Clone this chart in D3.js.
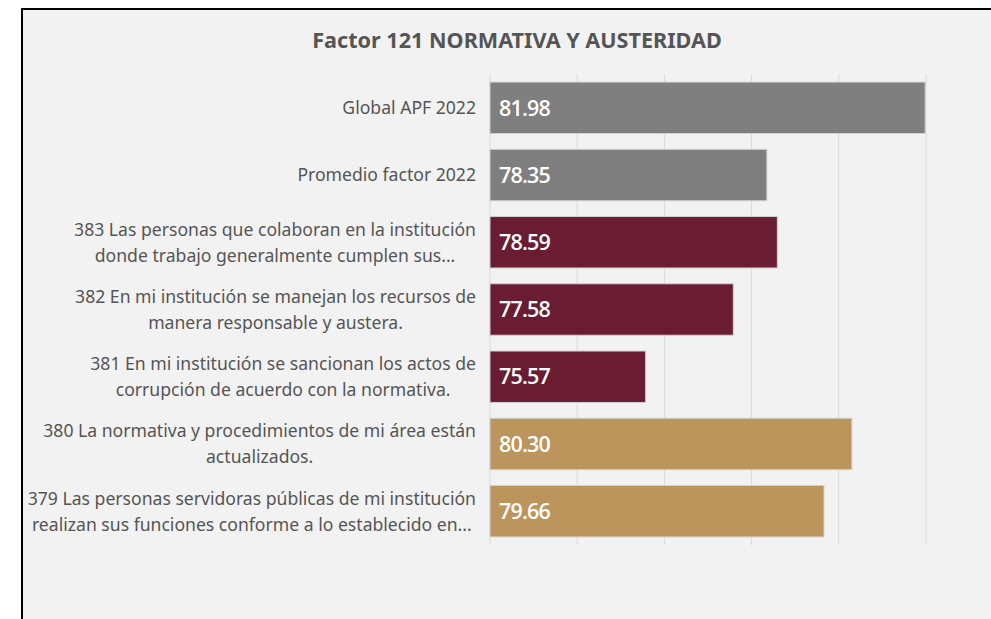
<!DOCTYPE html>
<html>
<head>
<meta charset="utf-8">
<script src="https://d3js.org/d3.v7.min.js"></script>
<style>
  body { margin: 0; background: #ffffff; }
  svg { display: block; }
</style>
</head>
<body>
<div id="chart"></div>
<script>
// datos
const categorias = [
  ["Global APF 2022"],
  ["Promedio factor 2022"],
  ["383 Las personas que colaboran en la institución", "donde trabajo generalmente cumplen sus..."],
  ["382 En mi institución se manejan los recursos de", "manera responsable y austera."],
  ["381 En mi institución se sancionan los actos de", "corrupción de acuerdo con la normativa."],
  ["380 La normativa y procedimientos de mi área están", "actualizados."],
  ["379 Las personas servidoras públicas de mi institución", "realizan sus funciones conforme a lo establecido en..."]
];
const valores = [81.98, 78.35, 78.59, 77.58, 75.57, 80.30, 79.66];
const grupos = ["global", "global", "reactivo", "reactivo", "reactivo", "area", "area"];
const ticks = [72, 74, 76, 78, 80, 82];
const titulo = "Factor 121 NORMATIVA Y AUSTERIDAD";

const colores = { global: "#7f7f7f", reactivo: "#691c32", area: "#bc955c" };

const width = 991, height = 619;
const plot = { left: 490, right: 926, top: 74, bottom: 545 };

const svg = d3.select("#chart").append("svg")
  .attr("width", width).attr("height", height);

// marco del gráfico
svg.append("rect")
  .attr("x", 22).attr("y", 9)
  .attr("width", width).attr("height", height)
  .attr("fill", "#f2f2f2")
  .attr("stroke", "#000").attr("stroke-width", 2);

const x = d3.scaleLinear().domain([72, 82]).range([plot.left, plot.right]);
const y = d3.scaleBand().domain(d3.range(categorias.length))
  .range([plot.top, plot.bottom]).paddingInner(0.235).paddingOuter(0.12);

// líneas de cuadrícula
svg.append("g")
  .selectAll("line").data(ticks).join("line")
  .attr("x1", d => x(d)).attr("x2", d => x(d))
  .attr("y1", plot.top).attr("y2", plot.bottom)
  .attr("stroke", "#d9d9d9").attr("stroke-width", 1);

// barras
svg.append("g")
  .selectAll("rect").data(valores).join("rect")
  .attr("x", x(72))
  .attr("y", (d, i) => y(i))
  .attr("width", d => x(d) - x(72))
  .attr("height", y.bandwidth())
  .attr("fill", (d, i) => colores[grupos[i]])
  .attr("stroke", "#d0d0d0").attr("stroke-width", 1);

// etiquetas de valores
svg.append("g")
  .selectAll("text").data(valores).join("text")
  .attr("x", x(72) + 9)
  .attr("y", (d, i) => y(i) + y.bandwidth() / 2)
  .attr("dy", "0.36em")
  .attr("fill", "#ffffff")
  .style("font-family", "'Open Sans', sans-serif")
  .style("font-size", "21.5px")
  .style("font-weight", 600)
  .style("letter-spacing", "-0.8px")
  .text(d => d.toFixed(2));

// etiquetas de categorías
const etiquetas = svg.append("g")
  .style("font-family", "'Noto Sans', sans-serif")
  .style("font-size", "17.6px")
  .attr("fill", "#555555");

const lineH = 26;
categorias.forEach((lineas, i) => {
  const t = etiquetas.append("text").attr("text-anchor", "middle");
  const cy = y(i) + y.bandwidth() / 2;
  lineas.forEach((ln, k) => {
    t.append("tspan")
      .attr("y", cy + (k - (lineas.length - 1) / 2) * lineH)
      .attr("dy", "0.36em")
      .text(ln);
  });
  // centrar el bloque y alinear su línea más ancha a la derecha
  let maxW = 0;
  t.selectAll("tspan").each(function() { maxW = Math.max(maxW, this.getComputedTextLength()); });
  t.selectAll("tspan").attr("x", 476 - maxW / 2);
});

// título
svg.append("text")
  .attr("x", 517).attr("y", 40)
  .attr("dy", "0.36em")
  .attr("text-anchor", "middle")
  .attr("fill", "#555555")
  .style("font-family", "'Noto Sans', sans-serif")
  .style("font-size", "21.6px")
  .style("font-weight", "bold")
  .text(titulo);
</script>
</body>
</html>
